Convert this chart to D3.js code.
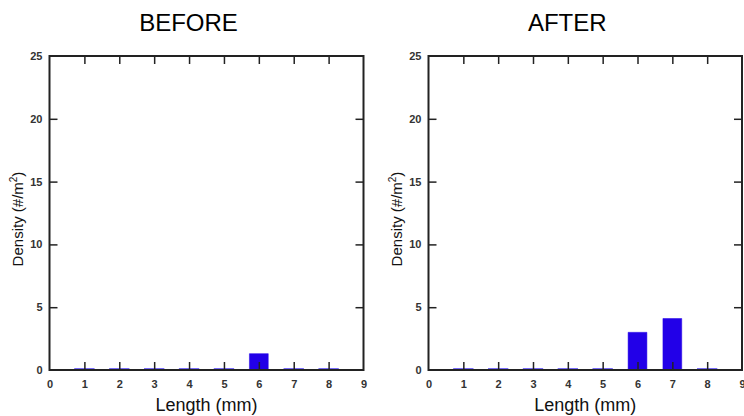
<!DOCTYPE html>
<html><head><meta charset="utf-8">
<script src="https://cdn.jsdelivr.net/npm/d3@7"></script>
<style>body{margin:0;background:#fff}svg{display:block}</style>
</head><body>
<script>
const lengths = [1, 2, 3, 4, 5, 6, 7, 8];
const beforeDensity = [0, 0, 0, 0, 0, 1.3, 0, 0];
const afterDensity = [0, 0, 0, 0, 0, 3.0, 4.1, 0];
const panelTitles = ["BEFORE", "AFTER"];
const xTicks = [0, 1, 2, 3, 4, 5, 6, 7, 8, 9];
const yTicks = [0, 5, 10, 15, 20, 25];

const W = 744, H = 416;
const svg = d3.select("body").append("svg").attr("width", W).attr("height", H);
const font = "Liberation Sans, Arial, sans-serif";
const panels = [
  {title: panelTitles[0], data: beforeDensity, x0: 49.5, x1: 363.5},
  {title: panelTitles[1], data: afterDensity, x0: 428.5, x1: 742}
];
const yTop = 56, yBot = 370;
const barColor = "#2200e8";

panels.forEach(p => {
  const g = svg.append("g");
  const x = d3.scaleLinear().domain([0, 9]).range([p.x0, p.x1]);
  const y = d3.scaleLinear().domain([0, 25]).range([yBot, yTop]);
  const bw = (x(1) - x(0)) * 0.54;

  // bars (paths so zero-height bars still show as a line)
  g.selectAll("path.bar").data(lengths.map((l, i) => ({l, v: p.data[i]})))
    .enter().append("path").attr("class", "bar")
    .attr("d", d => {
      const a = x(d.l) - bw / 2, b = x(d.l) + bw / 2;
      const t = d.v > 0 ? y(d.v) : y(0) - 1;
      return `M${a},${y(0)}L${a},${t}L${b},${t}L${b},${y(0)}Z`;
    })
    .attr("fill", barColor)
    .attr("stroke", d => d.v > 0 ? barColor : "#4a3af5")
    .attr("stroke-width", d => d.v > 0 ? 0.5 : 1.5);

  const axStyle = sel => {
    sel.select(".domain").remove();
    sel.selectAll("line").attr("stroke", "#222").attr("stroke-width", 1.5);
    sel.selectAll("text").attr("font-family", font).attr("font-size", 11)
      .attr("font-weight", "bold").attr("fill", "#333");
  };
  // bottom axis: ticks inward
  g.append("g").attr("transform", `translate(0,${yBot})`)
    .call(d3.axisBottom(x).tickValues(xTicks).tickSizeInner(-8).tickSizeOuter(0).tickPadding(10)
      .tickFormat(d3.format("d")))
    .call(axStyle)
    .call(s => s.selectAll(".tick text").attr("y", 18).attr("dy", 0))
    .call(s => s.selectAll(".tick").filter(d => d === 0 || d === 9).select("line").remove());
  // top axis
  g.append("g").attr("transform", `translate(0,${yTop})`)
    .call(d3.axisTop(x).tickValues(xTicks.filter(d => d > 0 && d < 9)).tickSizeInner(-8).tickSizeOuter(0).tickFormat(""))
    .call(axStyle);
  // left axis
  g.append("g").attr("transform", `translate(${p.x0},0)`)
    .call(d3.axisLeft(y).tickValues(yTicks).tickSizeInner(-8).tickSizeOuter(0).tickPadding(7))
    .call(axStyle)
    .call(s => s.selectAll(".tick").filter(d => d === 0 || d === 25).select("line").remove());
  // right axis
  g.append("g").attr("transform", `translate(${p.x1},0)`)
    .call(d3.axisRight(y).tickValues(yTicks.filter(d => d > 0 && d < 25)).tickSizeInner(-8).tickSizeOuter(0).tickFormat(""))
    .call(axStyle);

  // frame
  g.append("rect").attr("x", p.x0).attr("y", yTop).attr("width", p.x1 - p.x0).attr("height", yBot - yTop)
    .attr("fill", "none").attr("stroke", "#222").attr("stroke-width", 2);

  // labels
  const cx = (p.x0 + p.x1) / 2;
  g.append("text").attr("x", cx).attr("y", 411).attr("text-anchor", "middle")
    .attr("font-family", font).attr("font-size", 18).attr("fill", "#111").text("Length (mm)");
  const yl = g.append("text").attr("transform", `translate(${p.x0 - 27},${(yTop + yBot) / 2 + 6}) rotate(-90)`)
    .attr("text-anchor", "middle").attr("font-family", font).attr("font-size", 15).attr("fill", "#111");
  yl.append("tspan").text("Density (#/m");
  yl.append("tspan").attr("font-size", 10).attr("dy", -6).text("2");
  yl.append("tspan").attr("dy", 6).text(")");
  g.append("text").attr("x", cx - 18).attr("y", 31).attr("text-anchor", "middle")
    .attr("font-family", font).attr("font-size", 24).attr("fill", "#000").text(p.title);
});
</script>
</body></html>
